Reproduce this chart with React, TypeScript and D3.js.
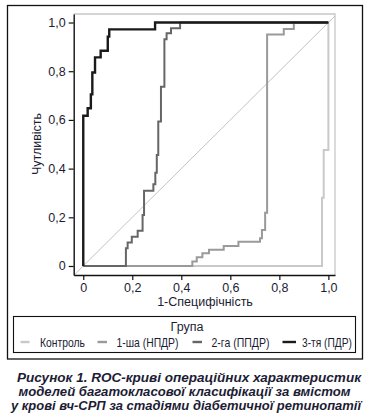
import React, { useRef, useEffect } from "react";
import * as d3 from "d3";

// ROC points (1-specificity, sensitivity), joined as right-then-up steps
const controlFpr = [0, 0.974, 0.981, 1.0];
const controlTpr = [0, 0.28, 0.476, 1.0];

const npdrFpr = [0, 0.445, 0.463, 0.486, 0.513, 0.573, 0.633, 0.721, 0.729, 0.742, 0.75, 0.818, 0.859, 1.0];
const npdrTpr = [0, 0.018, 0.036, 0.052, 0.067, 0.082, 0.1, 0.114, 0.148, 0.219, 0.951, 0.973, 1.0, 1.0];

const ppdrFpr = [0, 0.174, 0.181, 0.198, 0.222, 0.242, 0.248, 0.286, 0.294, 0.3, 0.306, 0.317, 0.331, 0.34, 0.358, 0.395, 1.0];
const ppdrTpr = [0, 0.073, 0.096, 0.12, 0.145, 0.209, 0.309, 0.336, 0.383, 0.456, 0.593, 0.736, 0.931, 0.956, 0.976, 1.0, 1.0];

const pdrFpr = [0, 0, 0.018, 0.031, 0.037, 0.048, 0.071, 0.1, 0.106, 0.293, 1.0];
const pdrTpr = [0, 0.617, 0.648, 0.705, 0.795, 0.857, 0.884, 0.942, 0.972, 1.0, 1.0];

const groupNames = ["Контроль", "1-ша (НПДР)", "2-га (ППДР)", "3-тя (ПДР)"];
const groupColors = ["#c9c9c9", "#9a9a9a", "#666666", "#1a1a1a"];

const tickValues = [0, 0.2, 0.4, 0.6, 0.8, 1.0];

const captionLines = [
  "Рисунок 1.  ROC-криві операційних характеристик",
  "моделей багатокласової класифікації за вмістом",
  "у крові вч-СРП за стадіями діабетичної ретинопатії",
];

const W = 372;
const H = 419;
const textColor = "#1c1c34";
const font = "'Liberation Sans', Arial, sans-serif";

export default function App() {
  const ref = useRef<SVGSVGElement>(null);

  useEffect(() => {
    const svg = d3.select(ref.current);
    svg.selectAll("*").remove();

    const x = d3.scaleLinear().domain([-0.039, 1.027]).range([73.7, 335]);
    const y = d3.scaleLinear().domain([-0.037, 1.035]).range([275, 14]);

    // outer frame
    svg.append("rect")
      .attr("x", 7.5).attr("y", 5.5).attr("width", 355).attr("height", 353.5)
      .attr("fill", "none").attr("stroke", "#111").attr("stroke-width", 1.3);

    // light top/right frame of the plot
    svg.append("path")
      .attr("d", `M${x.range()[0]},${y.range()[1]}H${x.range()[1]}V${y.range()[0]}`)
      .attr("fill", "none").attr("stroke", "#c8c8c8").attr("stroke-width", 1.3);

    // diagonal reference
    svg.append("line")
      .attr("x1", x(-0.037)).attr("y1", y(-0.037))
      .attr("x2", x(1.027)).attr("y2", y(1.027))
      .attr("stroke", "#b4b4b4").attr("stroke-width", 0.8);

    const fmt = (d: number) => (d === 0 ? "0" : d.toFixed(1).replace(".", ","));

    const xAxis = svg.append("g").attr("transform", `translate(0,${y.range()[0]})`)
      .call(d3.axisBottom(x).tickValues(tickValues).tickFormat(fmt as any).tickSize(5).tickSizeOuter(0).tickPadding(3));
    const yAxis = svg.append("g").attr("transform", `translate(${x.range()[0]},0)`)
      .call(d3.axisLeft(y).tickValues(tickValues).tickFormat(fmt as any).tickSize(5).tickSizeOuter(0).tickPadding(3));
    for (const ax of [xAxis, yAxis]) {
      ax.select(".domain").attr("stroke", "#111").attr("stroke-width", 1.4);
      ax.selectAll(".tick line").attr("stroke", "#111").attr("stroke-width", 1.2);
      ax.selectAll(".tick text").attr("fill", textColor).style("font-size", "12.5px").style("font-family", font);
    }

    // curves
    const line = d3.line<[number, number]>()
      .x(d => x(d[0])).y(d => y(d[1]))
      .curve(d3.curveStepAfter);
    const series: [number[], number[]][] = [
      [controlFpr, controlTpr],
      [npdrFpr, npdrTpr],
      [ppdrFpr, ppdrTpr],
      [pdrFpr, pdrTpr],
    ];
    series.forEach(([fx, ty], i) => {
      const pts = fx.map((v, j) => [v, ty[j]] as [number, number]);
      svg.append("path")
        .attr("d", line(pts))
        .attr("fill", "none")
        .attr("stroke", groupColors[i])
        .attr("stroke-width", i === 3 ? 2.4 : 2)
        .attr("stroke-linejoin", "miter");
    });

    // axis titles
    svg.append("text")
      .attr("x", 205).attr("y", 306)
      .attr("text-anchor", "middle").attr("fill", textColor)
      .style("font-size", "12.5px").style("font-family", font)
      .text("1-Специфічність");
    svg.append("text")
      .attr("transform", `translate(41,144) rotate(-90)`)
      .attr("text-anchor", "middle").attr("fill", textColor)
      .style("font-size", "12.5px").style("font-family", font)
      .text("Чутливість");

    // legend
    svg.append("rect")
      .attr("x", 13.5).attr("y", 316.5).attr("width", 342).attr("height", 36)
      .attr("fill", "none").attr("stroke", "#111").attr("stroke-width", 1.1);
    svg.append("text")
      .attr("x", 187).attr("y", 331)
      .attr("text-anchor", "middle").attr("fill", textColor)
      .style("font-size", "12.5px").style("font-family", font)
      .text("Група");
    const legendLineX = [20.5, 97.5, 192.5, 282.5];
    const legendLineW = [9, 9.5, 9.5, 13.5];
    const legendTextX = [40, 116.5, 211.5, 302];
    const legendTextW = [45, 62, 58, 50];
    groupNames.forEach((name, i) => {
      svg.append("line")
        .attr("x1", legendLineX[i]).attr("x2", legendLineX[i] + legendLineW[i])
        .attr("y1", 342).attr("y2", 342)
        .attr("stroke", groupColors[i]).attr("stroke-width", 2.4);
      svg.append("text")
        .attr("x", legendTextX[i]).attr("y", 346.5)
        .attr("fill", textColor)
        .attr("textLength", legendTextW[i]).attr("lengthAdjust", "spacingAndGlyphs")
        .style("font-size", "13px").style("font-family", font)
        .text(name);
    });

    // caption
    const capY = [381.5, 395.5, 409.5];
    const capW = [344, 332, 350];
    const capX = [189, 184.5, 186];
    captionLines.forEach((t, i) => {
      svg.append("text")
        .attr("x", capX[i] - capW[i] / 2).attr("y", capY[i])
        .attr("textLength", capW[i]).attr("lengthAdjust", "spacingAndGlyphs")
        .attr("fill", textColor)
        .style("font-size", "13px").style("font-family", font)
        .style("font-weight", "bold").style("font-style", "italic")
        .text(t);
    });
  }, []);

  return (
    <svg
      ref={ref}
      width={W}
      height={H}
      style={{ position: "absolute", left: 0, top: 0, background: "#fff" }}
    />
  );
}
